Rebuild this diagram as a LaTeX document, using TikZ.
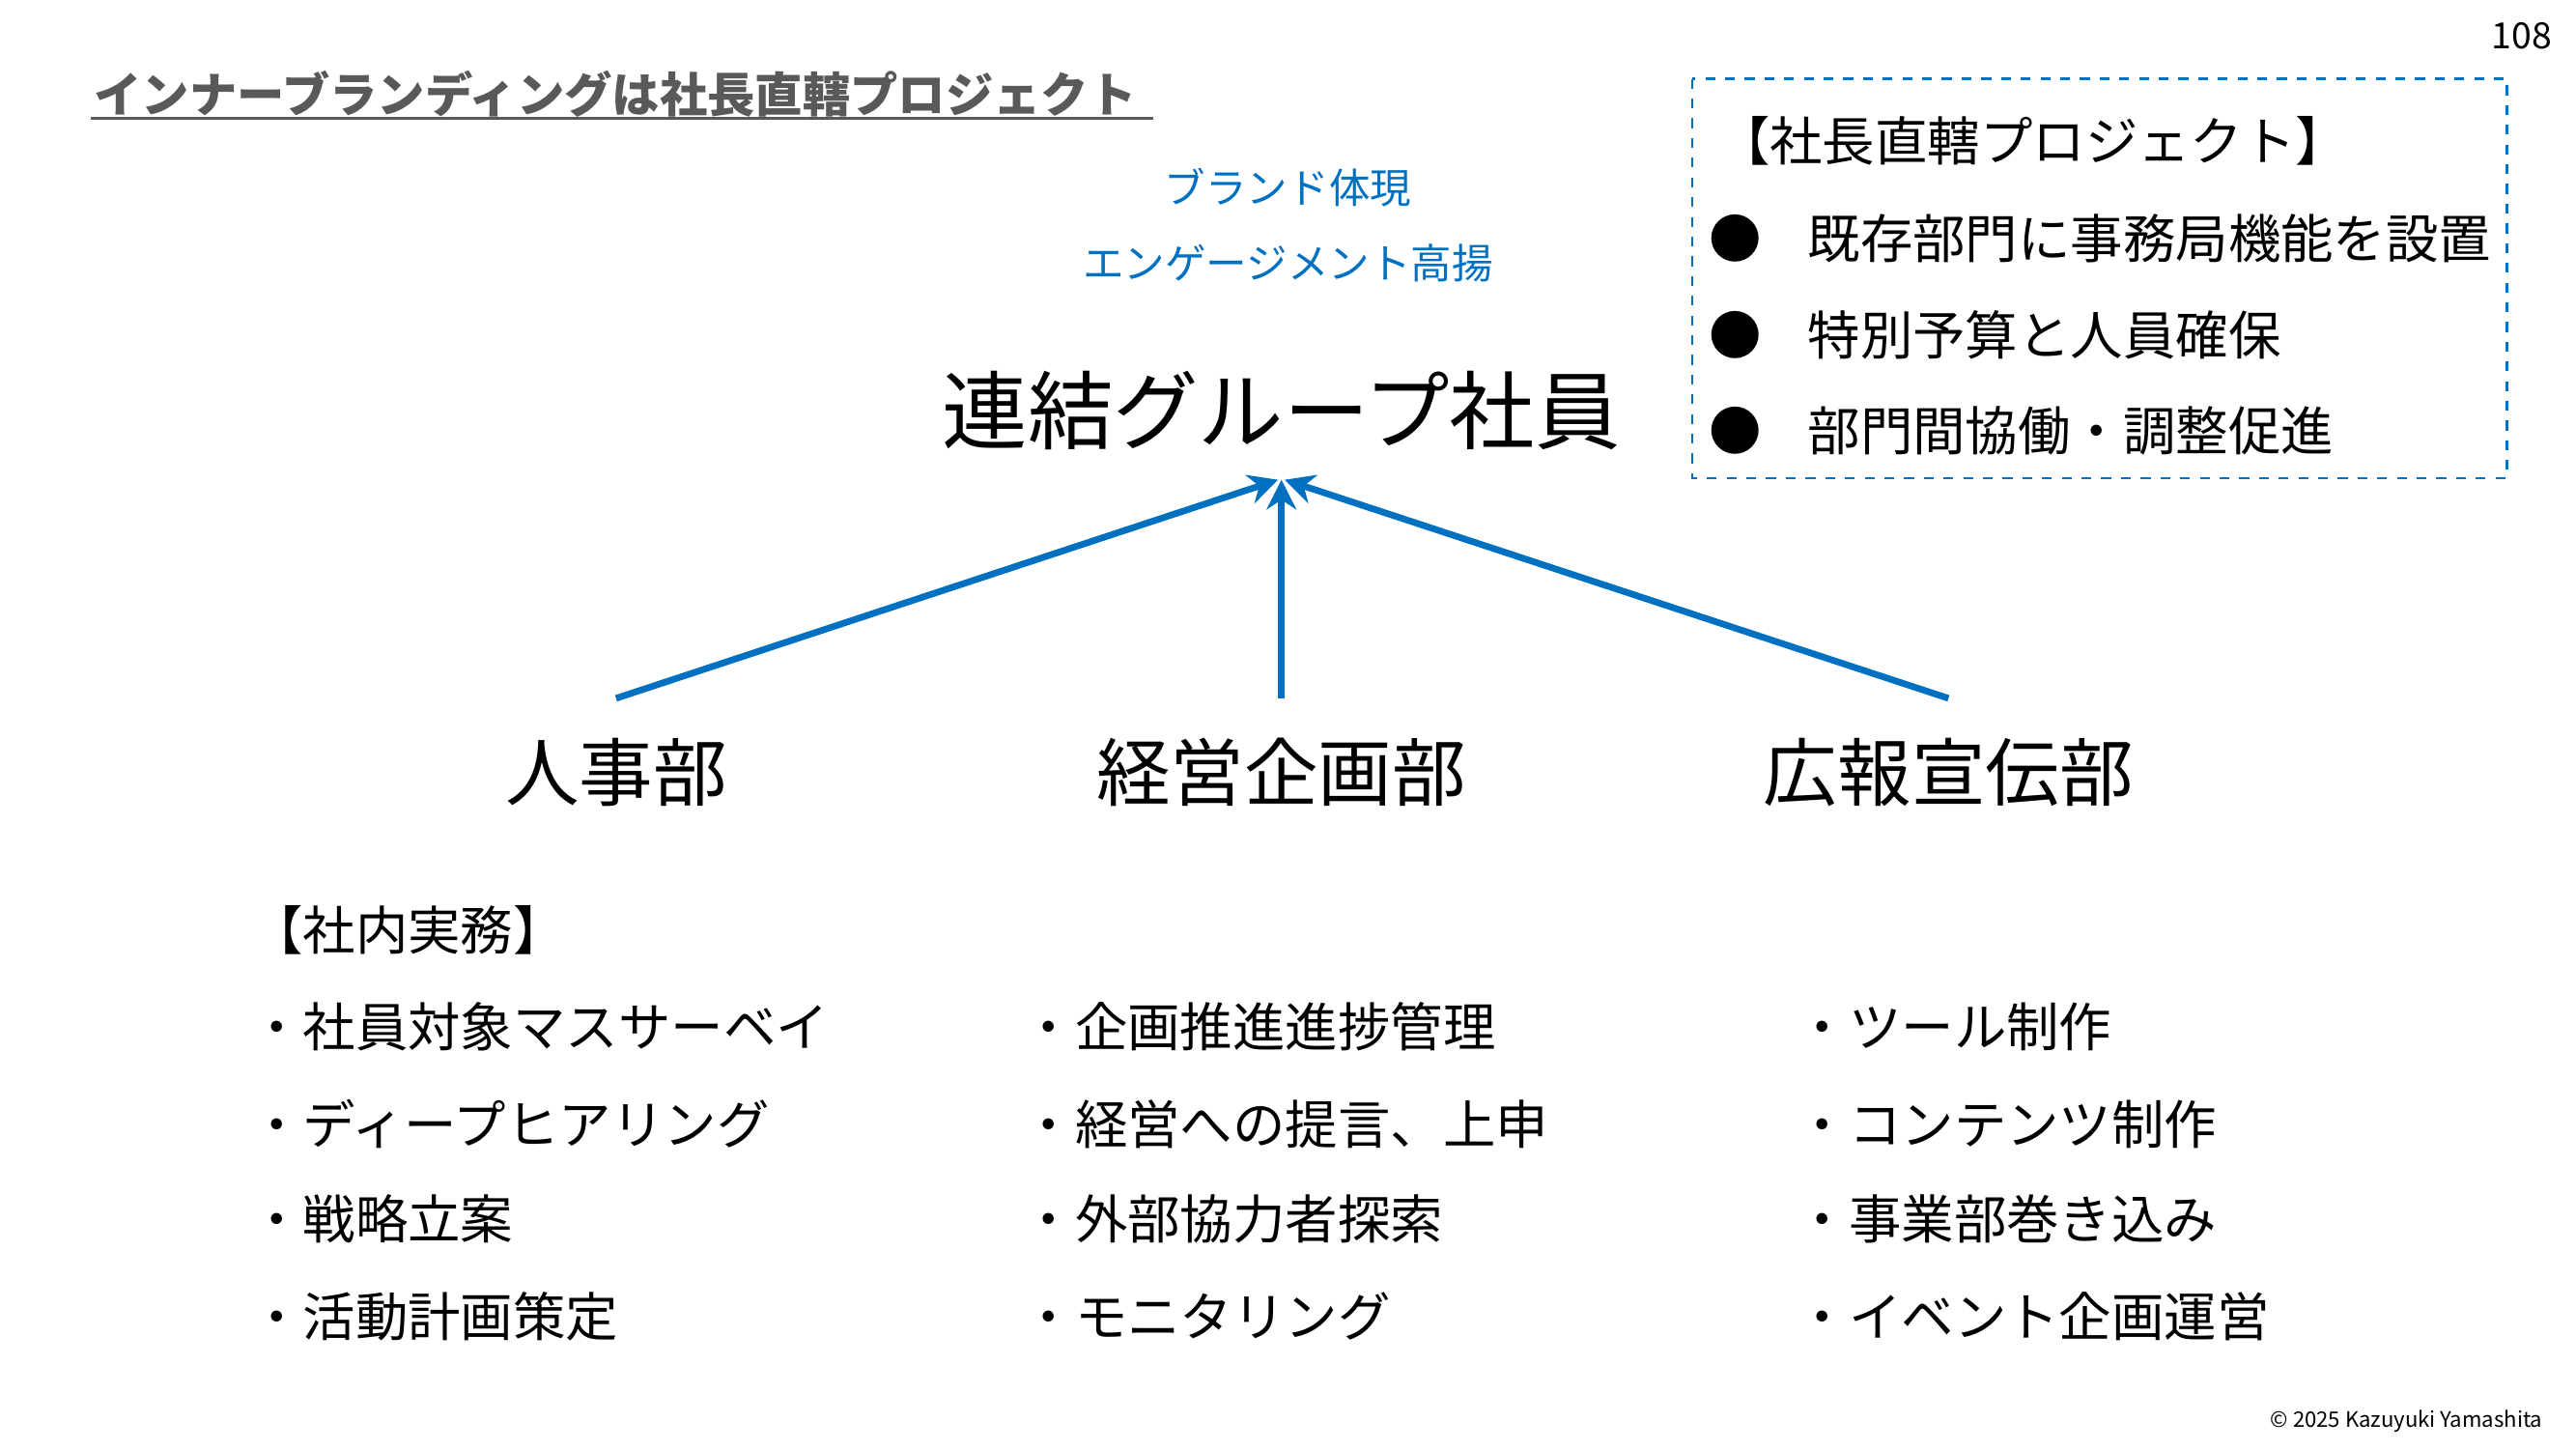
\documentclass[tikz,border=0pt]{standalone}
\usepackage{fontspec}
\setmainfont{Noto Sans CJK JP}
\usetikzlibrary{arrows.meta}
\definecolor{brandblue}{HTML}{0070C0}
\definecolor{titlegray}{HTML}{595959}
\tikzset{
  txt/.style={inner sep=0pt, anchor=west},
  item/.style={txt, font=\fontsize{16}{18}\selectfont},
  dept/.style={inner sep=0pt, font=\fontsize{22.5}{26}\selectfont},
  link/.style={draw=brandblue, line width=2pt, -{Stealth[length=9pt,width=9pt]}},
}
\begin{document}
\begin{tikzpicture}[x=0.5pt,y=-0.5pt]
\useasboundingbox (0,0) rectangle (1568,882);
\node[txt, font=\fontsize{14.5}{16}\selectfont\bfseries, text=titlegray] (title) at (57,57) {インナーブランディングは社長直轄プロジェクト};
\draw[titlegray, line width=0.8pt] (55,72) -- (702,72);
\node[inner sep=0pt, font=\fontsize{11}{12}\selectfont] (page) at (1535,22) {108};
\node[inner sep=0pt, anchor=east, font=\fontsize{6.5}{8}\selectfont\itshape] (copy) at (1548,865) {© 2025 Kazuyuki Yamashita};

\node[inner sep=0pt, text=brandblue, font=\fontsize{12.5}{14}\selectfont] (b1) at (784,114) {ブランド体現};
\node[inner sep=0pt, text=brandblue, font=\fontsize{12.5}{14}\selectfont] (b2) at (784,160) {エンゲージメント高揚};
\node[inner sep=0pt, font=\fontsize{26}{30}\selectfont] (emp) at (780,250) {連結グループ社員};

\node[dept] (hr) at (375,470) {人事部};
\node[dept] (plan) at (780,470) {経営企画部};
\node[dept] (pr) at (1186,470) {広報宣伝部};

\coordinate (s1) at (375,425); \coordinate (s2) at (780,425); \coordinate (s3) at (1186,425);
\coordinate (e1) at (778,292); \coordinate (e2) at (780,292); \coordinate (e3) at (782,292);
\draw[link] (s1) -- (e1);
\draw[link] (s2) -- (e2);
\draw[link] (s3) -- (e3);

\draw[brandblue, dashed, line width=0.7pt] (1030,48) rectangle (1526,291);
\node[item] (bx0) at (1045,86) {【社長直轄プロジェクト】};
\node[item] (bx1) at (1040,145) {●\hspace{14pt}既存部門に事務局機能を設置};
\node[item] (bx2) at (1040,204) {●\hspace{14pt}特別予算と人員確保};
\node[item] (bx3) at (1040,262) {●\hspace{14pt}部門間協働・調整促進};

\node[item] (l0) at (152,566) {【社内実務】};
\node[item] (l1) at (152,625) {・社員対象マスサーベイ};
\node[item] (l2) at (152,684) {・ディープヒアリング};
\node[item] (l3) at (152,742) {・戦略立案};
\node[item] (l4) at (152,801) {・活動計画策定};

\node[item] (m1) at (622,625) {・企画推進進捗管理};
\node[item] (m2) at (622,684) {・経営への提言、上申};
\node[item] (m3) at (622,742) {・外部協力者探索};
\node[item] (m4) at (622,801) {・モニタリング};

\node[item] (r1) at (1093,625) {・ツール制作};
\node[item] (r2) at (1093,684) {・コンテンツ制作};
\node[item] (r3) at (1093,742) {・事業部巻き込み};
\node[item] (r4) at (1093,801) {・イベント企画運営};
\end{tikzpicture}
\end{document}
